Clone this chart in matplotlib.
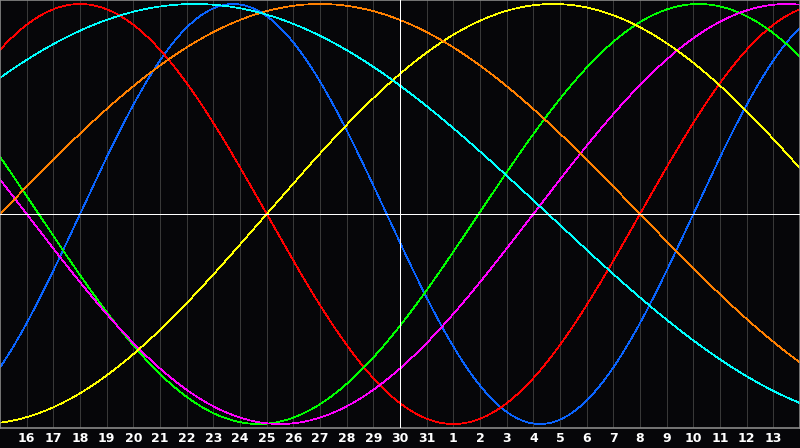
import numpy as np
from matplotlib import pyplot as plt

# day labels along the bottom (one per gridline, day index 1..29)
day_labels = [16, 17, 18, 19, 20, 21, 22, 23, 24, 25, 26, 27, 28, 29, 30, 31,
              1, 2, 3, 4, 5, 6, 7, 8, 9, 10, 11, 12, 13]
today_index = 15  # the "30" column, white marker line

# cycles: period in days and the day index where each curve crosses zero going up
periods = [23, 28, 33, 38, 43, 48, 53]
zero_up = [3.0, 24.0, 17.95, 20.0, 10.0, 0.0, -5.95]
colors = ['#0a64ff', '#ff0000', '#00ff00', '#ff00ff', '#ffff00', '#ff8000', '#00ffff']

n_days = 30
bg = '#060609'

fig = plt.figure(figsize=(8, 4.48), dpi=100, facecolor=bg)
ax = fig.add_axes([0, 20 / 448, 1, 428 / 448], facecolor=bg)

for k in range(1, n_days):
    ax.axvline(k, color='#383838', lw=0.5, zorder=1, antialiased=False)

xs = np.linspace(0, n_days, 1600)
for p, z, c in zip(periods, zero_up, colors):
    ax.plot(xs, np.sin(2 * np.pi * (xs - z) / p), color=c, lw=0.5,
            zorder=2, antialiased=False)

ax.axhline(0, color='white', lw=0.6, zorder=3, antialiased=False)
ax.axvline(today_index, color='white', lw=0.6, zorder=3, antialiased=False)

ax.set_xlim(0, n_days)
ax.set_ylim(-1.019, 1.019)
ax.set_yticks([])
ax.set_xticks(range(1, n_days))
ax.set_xticklabels([str(d) for d in day_labels], color='white',
                   fontsize=9, fontweight='bold', family='DejaVu Sans')
ax.tick_params(axis='x', length=0, pad=3)
for s in ax.spines.values():
    s.set_color('#888888')
    s.set_linewidth(1.2)

fig.savefig('out.png', dpi=100, facecolor=bg)
